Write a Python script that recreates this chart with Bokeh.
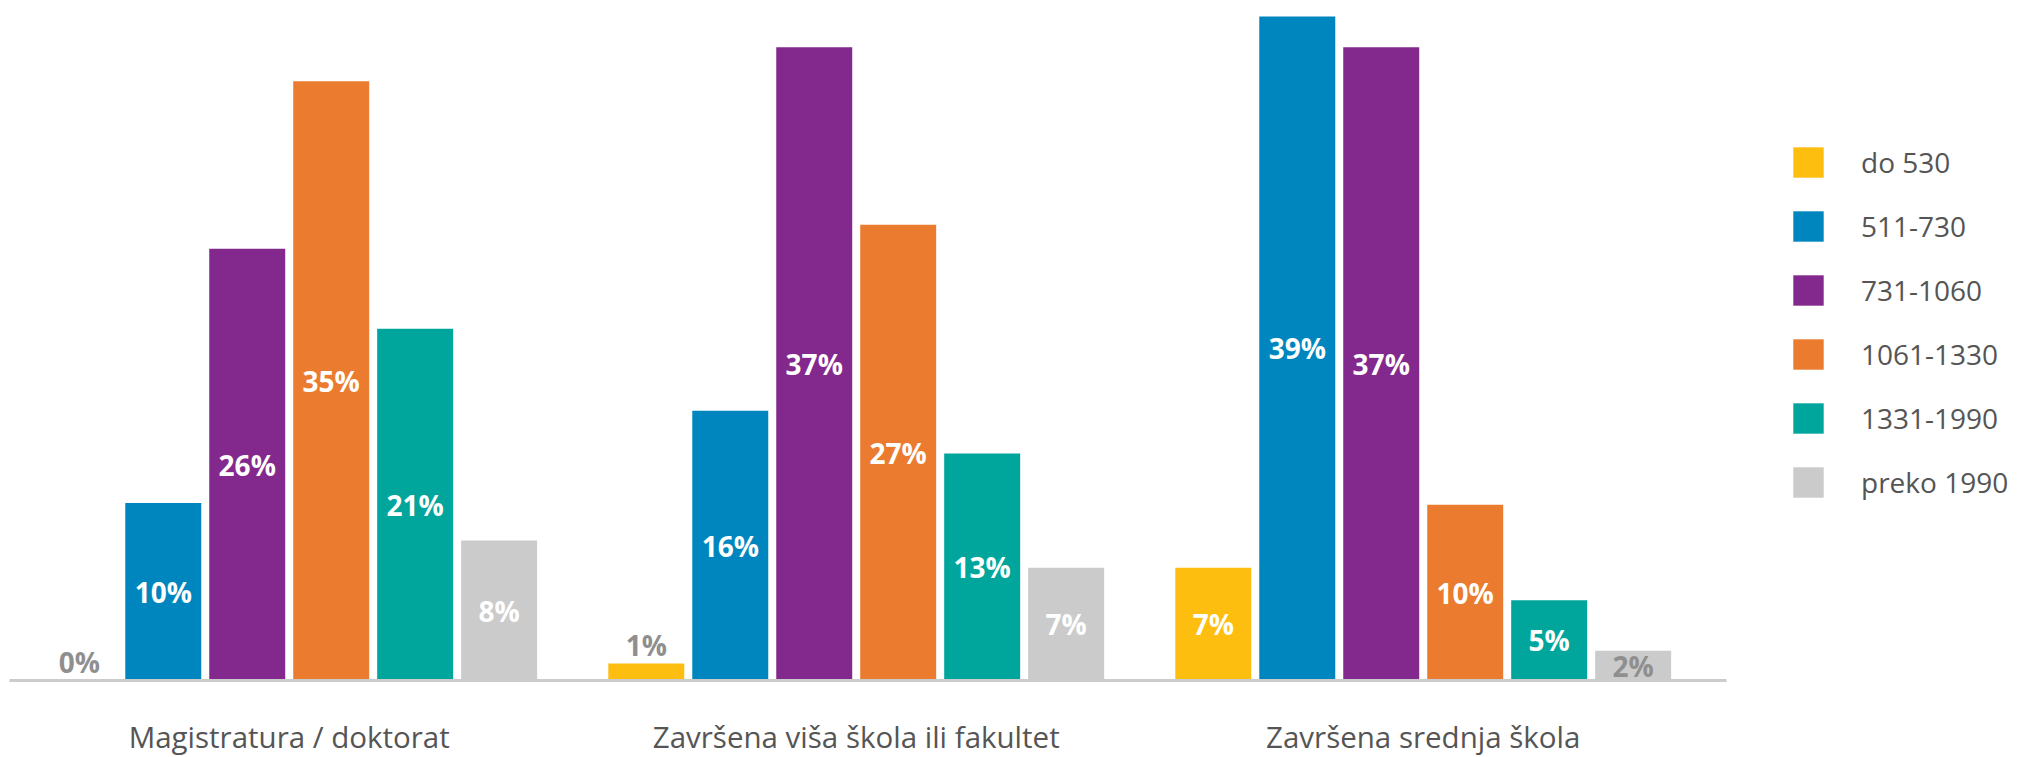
import numpy as np
from bokeh.plotting import figure
from bokeh.models import ColumnDataSource, Range1d, FixedTicker, Legend, LegendItem
from bokeh.transform import dodge
from bokeh.core.properties import value
from bokeh.embed import file_html
from bokeh.resources import INLINE

# ---- data ----
groups = ["Magistratura / doktorat", "Završena viša škola ili fakultet", "Završena srednja škola"]
series = ["do 530", "511-730", "731-1060", "1061-1330", "1331-1990", "preko 1990"]
colors = ["#FDBE10", "#0086BF", "#83298D", "#EB7C2F", "#00A69C", "#CBCBCB"]

do_530 = [0.0, 1.0, 6.6]
s_511_730 = [10.4, 15.8, 38.9]
s_731_1060 = [25.3, 37.1, 37.1]
s_1061_1330 = [35.1, 26.7, 10.3]
s_1331_1990 = [20.6, 13.3, 4.7]
preko_1990 = [8.2, 6.6, 1.75]

lab_do_530 = ["0%", "1%", "7%"]
lab_511_730 = ["10%", "16%", "39%"]
lab_731_1060 = ["26%", "37%", "37%"]
lab_1061_1330 = ["35%", "27%", "10%"]
lab_1331_1990 = ["21%", "13%", "5%"]
lab_preko_1990 = ["8%", "7%", "2%"]

values = [do_530, s_511_730, s_731_1060, s_1061_1330, s_1331_1990, preko_1990]
labels = [lab_do_530, lab_511_730, lab_731_1060, lab_1061_1330, lab_1331_1990, lab_preko_1990]

# ---- figure ----
x_start = -0.5092
x_end = 3.0534
p = figure(width=2020, height=757,
           x_range=Range1d(x_start, x_end), y_range=Range1d(-4.511, 39.836),
           output_backend="svg", toolbar_location=None,
           min_border_left=0, min_border_right=0, min_border_top=0, min_border_bottom=0)
p.outline_line_color = None
p.background_fill_color = "white"
p.xgrid.visible = False
p.ygrid.visible = False
p.yaxis.visible = False

pitch = 0.1481
bar_w = 0.134
items = []
for i, (name, col, vals, labs) in enumerate(zip(series, colors, values, labels)):
    v = np.array(vals, dtype=float)
    src = ColumnDataSource(dict(
        gx=list(range(len(groups))),
        top=v,
        label=labs,
        ly=np.where(v >= 1.5, v / 2.0, v + 1.1),
        lc=np.where(v < 2.5, "#8f8f8f", "#ffffff"),
    ))
    off = (i - (len(series) - 1) / 2.0) * pitch
    r = p.vbar(x=dodge("gx", off, range=p.x_range), top="top", bottom=0, width=bar_w,
               source=src, fill_color=col, line_color=None)
    p.text(x=dodge("gx", off, range=p.x_range), y="ly", text="label", source=src,
           text_color="lc", text_font=value("Open Sans"), text_font_style="bold",
           text_font_size="28px", text_align="center", text_baseline="middle")
    items.append(LegendItem(label=name, renderers=[r]))

ax = p.xaxis[0]
ax.fixed_location = 0
ax.bounds = (-0.4933, 2.5349)
ax.ticker = FixedTicker(ticks=list(range(len(groups))))
ax.major_label_overrides = {i: g for i, g in enumerate(groups)}
ax.major_tick_line_color = None
ax.minor_tick_line_color = None
ax.axis_line_color = "#cccccc"
ax.axis_line_width = 3
ax.major_label_standoff = 30
ax.major_label_text_font = "Open Sans"
ax.major_label_text_font_size = "29.5px"
ax.major_label_text_color = "#555555"

legend = Legend(items=items, location=(1789, 256),
                glyph_width=38, glyph_height=38, label_height=38,
                label_standoff=34, spacing=26, padding=0, margin=0,
                border_line_alpha=0, background_fill_alpha=0,
                label_text_font="Open Sans", label_text_font_size="28px",
                label_text_color="#555555")
p.add_layout(legend, "center")

open("out.html", "w").write(file_html(p, INLINE))
